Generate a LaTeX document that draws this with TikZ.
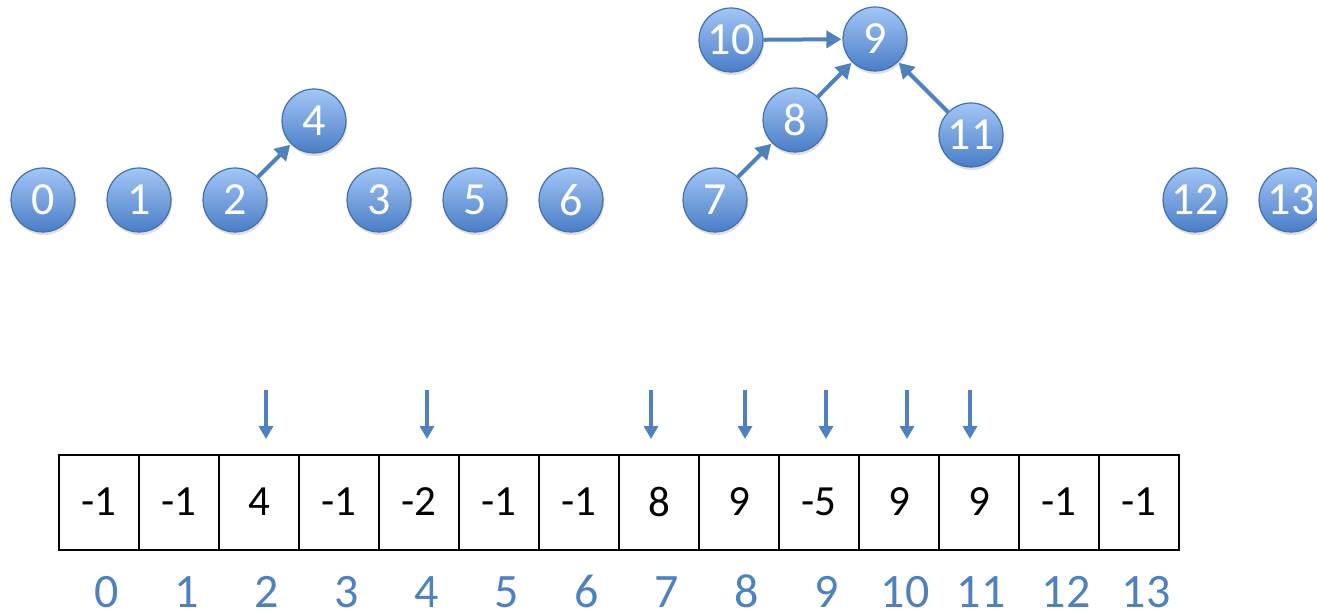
\documentclass[tikz,border=0pt]{standalone}
\usepackage{fontspec}
\setmainfont{Carlito}
\usetikzlibrary{arrows.meta,shadows}
\definecolor{ublue}{HTML}{4F81BD}
\definecolor{ctop}{HTML}{A3C6F6}
\definecolor{cbot}{HTML}{4A7DC6}
\definecolor{cedge}{HTML}{3F70B0}
\tikzset{
  vert/.style={circle, minimum size=64pt, inner sep=0pt, draw=cedge, line width=1.2pt,
    top color=ctop, bottom color=cbot, text=white,
    font=\fontsize{46}{46}\selectfont,
    drop shadow={shadow xshift=1pt, shadow yshift=-3pt, opacity=0.25}},
  link/.style={draw=ublue, line width=4pt, -{Triangle[length=15pt,width=17pt]}, shorten >=1pt},
  cell/.style={draw=black, line width=2pt, minimum width=80pt, minimum height=95pt, inner sep=0pt,
    font=\fontsize{43}{43}\selectfont},
  idx/.style={text=ublue, font=\fontsize{48}{48}\selectfont, inner sep=0pt,
    text height=30pt, text depth=0pt},
  down/.style={draw=ublue, line width=3.5pt, -{Triangle[length=13pt,width=14pt]}},
}
\begin{document}
\begin{tikzpicture}[x=1pt,y=-1pt]
\useasboundingbox (0,0) rectangle (1317,612);
% vertices
\node[vert] (v0) at (43,200) {0};
\node[vert] (v1) at (139,200) {1};
\node[vert] (v2) at (235,200) {2};
\node[vert] (v4) at (314,121) {4};
\node[vert] (v3) at (379,200) {3};
\node[vert] (v5) at (475,200) {5};
\node[vert] (v6) at (571,200) {6};
\node[vert] (v7) at (715,200) {7};
\node[vert] (v8) at (795,120) {8};
\node[vert] (v9) at (875,39) {9};
\node[vert] (v10) at (731,40) {10};
\node[vert] (v11) at (971,135) {11};
\node[vert] (v12) at (1195,200) {12};
\node[vert] (v13) at (1291,200) {13};
% links
\draw[link] (v2) -- (v4);
\draw[link] (v10) -- (v9);
\draw[link] (v8) -- (v9);
\draw[link] (v7) -- (v8);
\draw[link] (v11) -- (v9);
% array
\foreach \i/\v in {0/-1,1/-1,2/4,3/-1,4/-2,5/-1,6/-1,7/8,8/9,9/-5,10/9,11/9,12/-1,13/-1}{
  \node[cell] (c\i) at ({99+80*\i},502) {\v};
}
\foreach \i/\x in {0/107,1/187,2/267,3/347,4/427,5/507,6/587,7/667,8/747,9/827,10/905,11/981,12/1066,13/1146}{
  \node[idx] (n\i) at (\x,592) {\i};
}
% down arrows
\foreach \k/\x in {a/266,b/427,c/651,d/745,e/826,f/907,g/970}{
  \coordinate (s\k) at (\x,390);
  \coordinate (t\k) at (\x,439);
  \draw[down] (s\k) -- (t\k);
}
\end{tikzpicture}
\end{document}
